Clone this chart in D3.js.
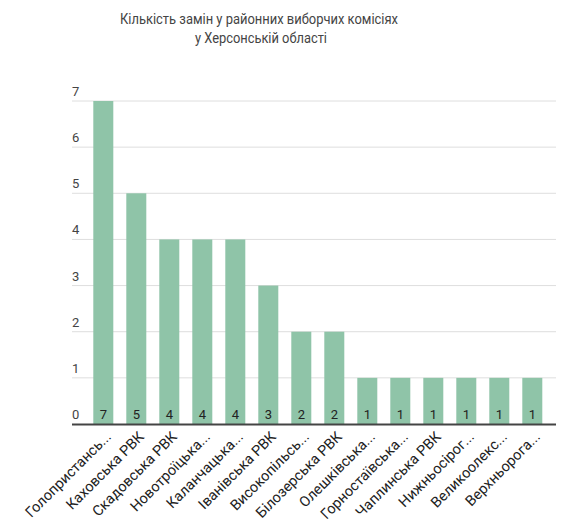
<!DOCTYPE html>
<html>
<head>
<meta charset="utf-8">
<script src="https://cdnjs.cloudflare.com/ajax/libs/d3/7.8.5/d3.min.js"></script>
<style>
  body { margin: 0; background: #fff; }
  text { font-family: Roboto, sans-serif; }
</style>
</head>
<body>
<div id="chart"></div>
<script>
// chart data
var districts = ["Голопристансь...", "Каховська РВК", "Скадовська РВК", "Новотроїцька...",
  "Каланчацька...", "Іванівська РВК", "Високопільсь...", "Білозерська РВК", "Олешківська...",
  "Горностаївська...", "Чаплинська РВК", "Нижньосірог...", "Великоолекс...", "Верхньорога..."];
var replacements = [7, 5, 4, 4, 4, 3, 2, 2, 1, 1, 1, 1, 1, 1];
var yTicks = [0, 1, 2, 3, 4, 5, 6, 7];
var titleLines = ["Кількість замін у районних виборчих комісіях", "у Херсонській області"];

var svgWidth = 574;
var svgHeight = 531;

var svg = d3.select("#chart")
  .append("svg")
  .attr("width", svgWidth)
  .attr("height", svgHeight);

var gridLeft = 72, gridRight = 556;

var xScale = d3.scaleBand()
  .domain(districts)
  .range([80.3, 555.3])
  .padding(0.394);

var yScale = d3.scaleLinear()
  .domain([0, 7])
  .range([424, 101]);

// title (condensed look: squeeze to the reference width)
var titleWidths = [278, 132];
svg.append("g").selectAll("text")
  .data(titleLines)
  .enter()
  .append("text")
  .attr("x", (d, i) => i ? 261 : 259)
  .attr("y", (d, i) => 24 + i * 19.3)
  .attr("text-anchor", "middle")
  .attr("font-size", "15px")
  .attr("textLength", (d, i) => titleWidths[i])
  .attr("lengthAdjust", "spacingAndGlyphs")
  .attr("fill", "#444")
  .text(d => d);

// gridlines + y labels
var grid = svg.append("g");
grid.selectAll("line")
  .data(yTicks.filter(d => d > 0))
  .enter()
  .append("line")
  .attr("x1", gridLeft)
  .attr("x2", gridRight)
  .attr("y1", d => yScale(d))
  .attr("y2", d => yScale(d))
  .attr("stroke", "#dedede")
  .attr("stroke-width", 1);

grid.selectAll("text")
  .data(yTicks)
  .enter()
  .append("text")
  .attr("x", gridLeft)
  .attr("y", d => yScale(d) - 5)
  .attr("font-size", "13px")
  .attr("fill", "#444")
  .text(d => d);

// bars
svg.append("g").selectAll("rect")
  .data(replacements)
  .enter()
  .append("rect")
  .attr("x", (d, i) => xScale(districts[i]))
  .attr("y", d => yScale(d))
  .attr("width", xScale.bandwidth())
  .attr("height", d => yScale(0) - yScale(d))
  .attr("fill", "#8fc4a8");

// value labels at the bar bottoms
svg.append("g").selectAll("text")
  .data(replacements)
  .enter()
  .append("text")
  .attr("x", (d, i) => xScale(districts[i]) + xScale.bandwidth() / 2)
  .attr("y", yScale(0) - 5)
  .attr("text-anchor", "middle")
  .attr("font-size", "13px")
  .attr("fill", "#222")
  .text(d => d);

// baseline
svg.append("line")
  .attr("x1", gridLeft)
  .attr("x2", gridRight)
  .attr("y1", yScale(0) + 0.5)
  .attr("y2", yScale(0) + 0.5)
  .attr("stroke", "#444")
  .attr("stroke-width", 2);

// x axis labels
svg.append("g").selectAll("text")
  .data(districts)
  .enter()
  .append("text")
  .attr("transform", d => `translate(${xScale(d) + xScale.bandwidth() / 2 + 5}, 434) rotate(-45)`)
  .attr("text-anchor", "end")
  .attr("dy", "0.35em")
  .attr("font-size", "14.5px")
  .attr("fill", "#222")
  .text(d => d);
</script>
</body>
</html>
